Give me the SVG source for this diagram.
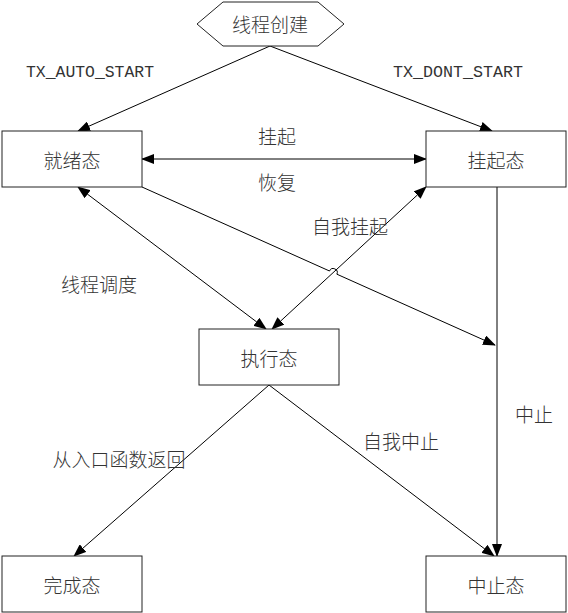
<svg xmlns="http://www.w3.org/2000/svg" width="568" height="613" viewBox="0 0 568 613">
<style>
.box{fill:#fff;stroke:#222;stroke-width:1}
.ln{fill:none;stroke:#000;stroke-width:1}
.t{font-family:"Noto Sans CJK SC","Liberation Serif",sans-serif;font-size:19px;font-weight:300;fill:#333;text-anchor:middle;dominant-baseline:central}
.m{font-family:"Liberation Mono",monospace;font-size:16px;fill:#333;text-anchor:middle;dominant-baseline:central}
</style>
<defs>
<marker id="ah" markerWidth="13" markerHeight="10" refX="12" refY="5" orient="auto-start-reverse" markerUnits="userSpaceOnUse">
<path d="M0,0 L13,5 L0,10 Z" fill="#000"/>
</marker>
</defs>
<rect width="568" height="613" fill="#fff"/>
<g id="connectors">
<line class="ln" x1="270" y1="46" x2="78" y2="131" marker-end="url(#ah)"/>
<line class="ln" x1="270" y1="46" x2="492" y2="131" marker-end="url(#ah)"/>
<line class="ln" x1="142" y1="159" x2="426" y2="159" marker-start="url(#ah)" marker-end="url(#ah)"/>
<line class="ln" x1="78" y1="187" x2="266" y2="329" marker-start="url(#ah)" marker-end="url(#ah)"/>
<line class="ln" x1="426" y1="187" x2="272" y2="329" marker-start="url(#ah)" marker-end="url(#ah)"/>
<path class="ln" d="M142,187 L329.5,271 A4,4 0 0 1 336.9,274.2 L495,345" marker-end="url(#ah)"/>
<line class="ln" x1="497" y1="187" x2="497" y2="556" marker-end="url(#ah)"/>
<line class="ln" x1="269" y1="385" x2="74" y2="556" marker-end="url(#ah)"/>
<line class="ln" x1="269" y1="385" x2="494" y2="556" marker-end="url(#ah)"/>
<text class="m" x="90" y="73" textLength="128" lengthAdjust="spacingAndGlyphs">TX_AUTO_START</text>
<text class="m" x="458" y="73" textLength="130" lengthAdjust="spacingAndGlyphs">TX_DONT_START</text>
<text class="t" x="277" y="135">挂起</text>
<text class="t" x="277" y="181">恢复</text>
<text class="t" x="350" y="225">自我挂起</text>
<text class="t" x="99" y="283">线程调度</text>
<text class="t" x="119" y="458">从入口函数返回</text>
<text class="t" x="401" y="440">自我中止</text>
<text class="t" x="534" y="413">中止</text>
</g>
<g id="n_create">
<polygon class="box" points="197,24 223,2 318,2 344,24 318,46 223,46"/>
<text class="t" x="270" y="23">线程创建</text>
</g>
<g id="n_ready">
<rect class="box" x="2" y="131" width="140" height="56"/>
<text class="t" x="72" y="159">就绪态</text>
</g>
<g id="n_suspended">
<rect class="box" x="426" y="131" width="140" height="56"/>
<text class="t" x="496" y="159">挂起态</text>
</g>
<g id="n_running">
<rect class="box" x="199" y="329" width="140" height="56"/>
<text class="t" x="269" y="357">执行态</text>
</g>
<g id="n_completed">
<rect class="box" x="2" y="556" width="140" height="56"/>
<text class="t" x="72" y="584">完成态</text>
</g>
<g id="n_terminated">
<rect class="box" x="426" y="556" width="140" height="56"/>
<text class="t" x="496" y="584">中止态</text>
</g>
</svg>
